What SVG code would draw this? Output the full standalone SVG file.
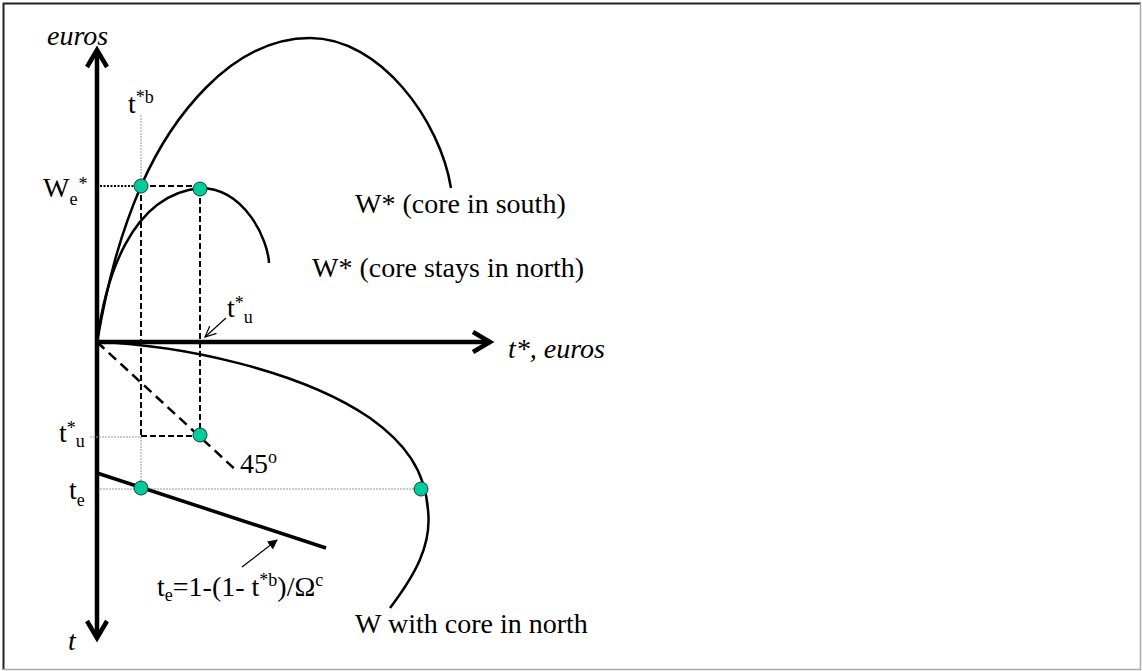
<svg xmlns="http://www.w3.org/2000/svg" width="1142" height="671" viewBox="0 0 1142 671">
<defs>
<style>
text{font-family:"Liberation Serif","Times New Roman",serif;font-size:28px;fill:#000}
.it{font-style:italic}
.sm{font-size:18px}
.axis{stroke:#000;stroke-width:4.5;fill:none}
.chev{stroke:#000;stroke-width:4.5;fill:none;stroke-linecap:butt;stroke-linejoin:miter}
.curve{stroke:#000;stroke-width:2.5;fill:none}
.dash{stroke:#000;stroke-width:2;stroke-dasharray:6,3;fill:none}
.dash45{stroke:#000;stroke-width:2.5;stroke-dasharray:10,6;fill:none}
.dotk{stroke:#000;stroke-width:2;stroke-dasharray:2,1.5;fill:none}
.dotg{stroke:#999;stroke-width:1;stroke-dasharray:2,1;fill:none}
.thin{stroke:#000;stroke-width:1.2;fill:none}
.pt{fill:#00CC99;stroke:#1f3f35;stroke-width:1}
</style>
<marker id="fa" viewBox="0 0 10 10" refX="9" refY="5" markerWidth="10" markerHeight="10" markerUnits="userSpaceOnUse" orient="auto"><path d="M0,0 L10,5 L0,10 z" fill="#000"/></marker>
<marker id="oa" viewBox="0 0 12 12" refX="11" refY="6" markerWidth="12" markerHeight="12" markerUnits="userSpaceOnUse" orient="auto"><path d="M0,1 L11,6 L0,11" fill="none" stroke="#000" stroke-width="1.2"/></marker>
</defs>
<rect x="0" y="0" width="1142" height="671" fill="#fff"/>
<g id="frame">
<line x1="3" y1="3.5" x2="1141" y2="3.5" stroke="#222" stroke-width="2"/>
<line x1="3.5" y1="3" x2="3.5" y2="670" stroke="#222" stroke-width="2"/>
<line x1="3" y1="669.5" x2="1141" y2="669.5" stroke="#aaa" stroke-width="1.5"/>
<line x1="1140.5" y1="3" x2="1140.5" y2="670" stroke="#aaa" stroke-width="1.5"/>
</g>
<g id="axes">
<line class="axis" x1="97" y1="50" x2="97" y2="638"/>
<path class="chev" d="M87,67 L97,50 L107,67"/>
<path class="chev" d="M87,621 L97,638 L107,621"/>
<line class="axis" x1="97" y1="342" x2="490" y2="342"/>
<path class="chev" d="M473,332 L490,342 L473,352"/>
</g>
<g id="guides">
<line class="dotg" x1="141" y1="115" x2="141" y2="186"/>
<line class="dotk" x1="100" y1="186" x2="141" y2="186"/>
<line class="dash" x1="141" y1="186" x2="200" y2="186"/>
<line class="dash" x1="141" y1="186" x2="141" y2="436"/>
<line class="dash" x1="200" y1="189" x2="200" y2="436"/>
<line class="dash" x1="141" y1="436" x2="200" y2="436"/>
<line class="dotg" x1="90" y1="437" x2="141" y2="437"/>
<line class="dotg" x1="141" y1="437" x2="141" y2="488"/>
<line class="dotg" x1="100" y1="489" x2="421" y2="489"/>
<line class="dash45" x1="97" y1="342" x2="238" y2="472"/>
</g>
<g id="curves">
<path id="w-south" class="curve" d="M97,342 C108,280 120,235 141,186 C170,120 230,38 310,38 C380,38 440,120 451,188"/>
<path id="w-north-star" class="curve" d="M97,342 C105,280 130,195 200,188 C245,188 268,240 269,263"/>
<path id="w-north" class="curve" d="M97,342 C180,345 300,370 370,418 C405,443 425,470 428,510 C432,545 415,575 390,608"/>
<line id="te-line" x1="97" y1="473" x2="326" y2="548" stroke="#000" stroke-width="3.5"/>
</g>
<g id="connectors">
<line class="thin" x1="242" y1="567" x2="277" y2="540" marker-end="url(#fa)"/>
<line class="thin" x1="226" y1="318" x2="205" y2="337" marker-end="url(#oa)"/>
</g>
<g id="points">
<circle class="pt" cx="141" cy="186" r="7"/>
<circle class="pt" cx="200" cy="189" r="7"/>
<circle class="pt" cx="200" cy="435" r="7"/>
<circle class="pt" cx="141" cy="488" r="7"/>
<circle class="pt" cx="421" cy="489" r="7"/>
</g>
<g id="labels">
<text class="it" x="47" y="45">euros</text>
<text class="it" x="508" y="358">t*, euros</text>
<text class="it" x="68" y="650">t</text>
<text x="128" y="113">t<tspan class="sm" dy="-10">*b</tspan></text>
<text x="43" y="197">W<tspan class="sm" dy="8">e</tspan><tspan class="sm" dx="1" dy="-15">*</tspan></text>
<text x="355" y="213">W* (core in south)</text>
<text x="312" y="277">W* (core stays in north)</text>
<text x="355" y="633">W with core in north</text>
<text x="227" y="317">t<tspan class="sm" dy="-8">*</tspan><tspan class="sm" dy="14">u</tspan></text>
<text x="59" y="442">t<tspan class="sm" dy="-8">*</tspan><tspan class="sm" dy="13">u</tspan></text>
<text x="69" y="499">t<tspan class="sm" dy="7">e</tspan></text>
<text x="240" y="473">45<tspan class="sm" dy="-10">o</tspan></text>
<text x="157" y="596">t<tspan class="sm" dy="5">e</tspan><tspan dy="-5">=1-(1- t</tspan><tspan class="sm" dy="-10">*b</tspan><tspan dy="10">)/Ω</tspan><tspan class="sm" dy="-10">c</tspan></text>
</g>
</svg>
